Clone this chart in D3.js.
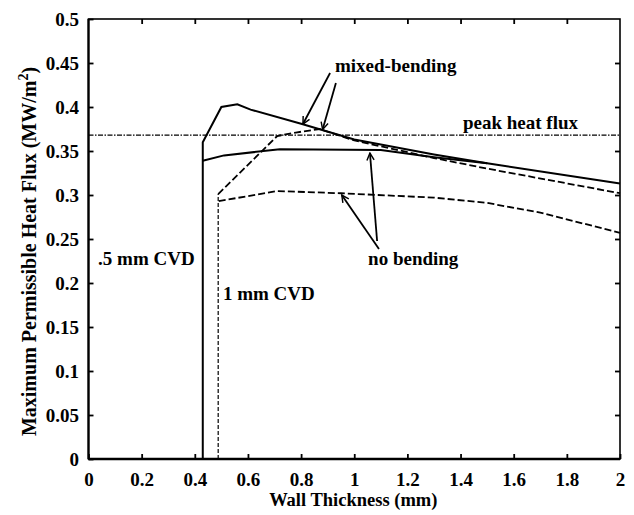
<!DOCTYPE html>
<html>
<head>
<meta charset="utf-8">
<script src="https://cdn.jsdelivr.net/npm/d3@7"></script>
<style>
  html, body { margin: 0; padding: 0; background: #fff; }
  svg { display: block; }
  text { font-family: "Liberation Serif", "Times New Roman", serif; font-weight: bold; fill: #000; }
</style>
</head>
<body>
<svg id="chart" width="634" height="515"></svg>
<script>
// ---- data ----
const xTicks = [0, 0.2, 0.4, 0.6, 0.8, 1, 1.2, 1.4, 1.6, 1.8, 2];
const yTicks = [0, 0.05, 0.1, 0.15, 0.2, 0.25, 0.3, 0.35, 0.4, 0.45, 0.5];

// 0.5 mm CVD, mixed-bending (solid, upper)
const mixed05 = [[0.43,0],[0.43,0.36],[0.50,0.400],[0.56,0.403],[0.61,0.397],[0.80,0.381],[1.0,0.363],[1.3,0.346],[1.5,0.336],[2.0,0.313]];
// 0.5 mm CVD, no bending (solid, lower)
const none05 = [[0.43,0.339],[0.51,0.345],[0.72,0.352],[1.1,0.351],[1.3,0.343],[1.5,0.336]];
// 1 mm CVD vertical wall (fine dashed)
const wall1 = [[0.488,0],[0.488,0.301]];
// 1 mm CVD, mixed-bending (dashed, upper)
const mixed1 = [[0.488,0.301],[0.71,0.367],[0.78,0.371],[0.87,0.375],[1.0,0.362],[1.3,0.342],[1.5,0.330],[2.0,0.302]];
// 1 mm CVD, no bending (dashed, lower)
const none1 = [[0.49,0.293],[0.71,0.3045],[0.95,0.302],[1.3,0.297],[1.5,0.291],[1.7,0.280],[2.0,0.257]];
// peak heat flux level
const peakFlux = 0.368;

// annotations (data units)
const labels = [
  {t: ".5 mm CVD", x: 0.036, y: 0.2205},
  {t: "1 mm CVD", x: 0.506, y: 0.1807},
  {t: "mixed-bending", x: 0.9276, y: 0.4398},
  {t: "peak heat flux", x: 1.409, y: 0.375},
  {t: "no bending", x: 1.052, y: 0.2205}
];
const arrows = [
  [[0.909,0.4386],[0.807,0.3807]],
  [[0.931,0.4273],[0.881,0.3744]],
  [[1.093,0.2386],[0.953,0.300]],
  [[1.086,0.2477],[1.059,0.3477]]
];

// ---- drawing ----
const svg = d3.select("#chart");
const L = 88.5, R = 620, T = 19, B = 459;
const x = d3.scaleLinear().domain([0, 2]).range([L, R]);
const y = d3.scaleLinear().domain([0, 0.5]).range([B, T]);

const defs = svg.append("defs");
defs.append("marker").attr("id","arr").attr("viewBox","0 0 10 10")
  .attr("refX",9).attr("refY",5).attr("markerWidth",9).attr("markerHeight",9)
  .attr("markerUnits","userSpaceOnUse").attr("orient","auto")
  .append("path").attr("d","M1,1 L9,5 L1,9").attr("fill","none").attr("stroke","#000").attr("stroke-width",1.6);

// frame
svg.append("rect").attr("x",L).attr("y",T).attr("width",R-L).attr("height",B-T)
  .attr("fill","none").attr("stroke","#000").attr("stroke-width",1.6);
svg.append("line").attr("x1",L).attr("x2",L).attr("y1",T).attr("y2",B).attr("stroke","#000").attr("stroke-width",2.2);
svg.append("line").attr("x1",L).attr("x2",R).attr("y1",B).attr("y2",B).attr("stroke","#000").attr("stroke-width",2.4);

// axes with inward ticks
const fmt = d => d === 0 ? "0" : String(+d.toFixed(2));
const xb = svg.append("g").attr("transform",`translate(0,${B})`)
  .call(d3.axisBottom(x).tickValues(xTicks).tickFormat(fmt).tickSize(-5).tickPadding(14));
const yl = svg.append("g").attr("transform",`translate(${L},0)`)
  .call(d3.axisLeft(y).tickValues(yTicks).tickFormat(fmt).tickSize(-5).tickPadding(14));
const xt = svg.append("g").attr("transform",`translate(0,${T})`)
  .call(d3.axisTop(x).tickValues(xTicks.slice(1,-1)).tickFormat("").tickSize(-5));
const yr = svg.append("g").attr("transform",`translate(${R},0)`)
  .call(d3.axisRight(y).tickValues(yTicks.slice(1,-1)).tickFormat("").tickSize(-5));
[xb, yl, xt, yr].forEach(g => {
  g.select(".domain").remove();
  g.selectAll(".tick line").attr("stroke","#000").attr("stroke-width",1.8);
  g.selectAll("text").attr("font-size",19).attr("font-family","Liberation Serif, serif").attr("font-weight","bold").attr("fill","#000");
});
xb.selectAll("text").attr("dy",null).attr("y",27);
yl.selectAll("text").attr("x",-9.5).attr("dy","0.34em");

// axis titles
svg.append("text").attr("x",(L+R)/2 - 1).attr("y",506).attr("text-anchor","middle")
  .attr("font-size",18.5).text("Wall Thickness (mm)");
const yt = svg.append("text").attr("transform",`translate(36,251.5) rotate(-90)`)
  .attr("text-anchor","middle").attr("font-size",20);
yt.append("tspan").text("Maximum Permissible Heat Flux (MW/m");
yt.append("tspan").attr("font-size",14).attr("dy",-8).text("2");
yt.append("tspan").attr("dy",8).text(")");

// lines
const line = d3.line().x(d => x(d[0])).y(d => y(d[1]));
svg.append("line").attr("x1",x(0)).attr("x2",x(2)).attr("y1",y(peakFlux)).attr("y2",y(peakFlux))
  .attr("stroke","#000").attr("stroke-width",1.2).attr("stroke-dasharray","5,1.5,1.5,1.5");
svg.append("path").attr("d",line(mixed05)).attr("fill","none").attr("stroke","#000").attr("stroke-width",2);
svg.append("path").attr("d",line(none05)).attr("fill","none").attr("stroke","#000").attr("stroke-width",2);
svg.append("path").attr("d",line(wall1)).attr("fill","none").attr("stroke","#000").attr("stroke-width",1.2).attr("stroke-dasharray","4,2");
svg.append("path").attr("d",line(mixed1)).attr("fill","none").attr("stroke","#000").attr("stroke-width",1.8).attr("stroke-dasharray","7,3");
svg.append("path").attr("d",line(none1)).attr("fill","none").attr("stroke","#000").attr("stroke-width",1.8).attr("stroke-dasharray","7,3");

// annotations
labels.forEach(l => svg.append("text").attr("x",x(l.x)).attr("y",y(l.y)).attr("font-size",19).text(l.t));
arrows.forEach(a => svg.append("path").attr("d",line(a)).attr("fill","none").attr("stroke","#000")
  .attr("stroke-width",1.8).attr("marker-end","url(#arr)"));
</script>
</body>
</html>
